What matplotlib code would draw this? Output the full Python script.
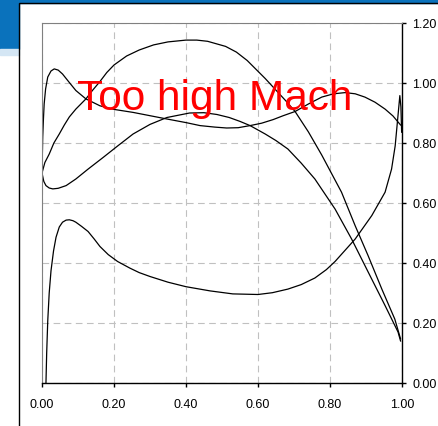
import matplotlib
matplotlib.use('Agg')
import matplotlib.pyplot as plt
from matplotlib.patches import Rectangle

plt.rcParams['font.family'] = ['Liberation Sans', 'DejaVu Sans']

# lower curve (starts at stagnation, loops at trailing edge)
c1_x = [0.011, 0.013, 0.016, 0.020, 0.025, 0.032, 0.039, 0.048, 0.057, 0.067,
        0.076, 0.086, 0.094, 0.11, 0.128, 0.145, 0.161, 0.184, 0.21, 0.244,
        0.27, 0.30, 0.35, 0.40, 0.467, 0.53, 0.60, 0.64, 0.683, 0.72, 0.758,
        0.79, 0.814, 0.87, 0.916, 0.953, 0.971, 0.981, 0.988, 0.994, 0.997,
        0.999]
c1_y = [0.00, 0.10, 0.208, 0.30, 0.374, 0.44, 0.486, 0.52, 0.536, 0.543,
        0.544, 0.541, 0.536, 0.522, 0.505, 0.48, 0.455, 0.428, 0.405, 0.383,
        0.368, 0.355, 0.336, 0.321, 0.307, 0.297, 0.295, 0.301, 0.313, 0.328,
        0.35, 0.378, 0.405, 0.48, 0.558, 0.636, 0.713, 0.79, 0.88, 0.958,
        0.92, 0.836]

# big arch
c2_x = [0.0, 0.008, 0.02, 0.033, 0.048, 0.062, 0.076, 0.094, 0.122, 0.14,
        0.161, 0.18, 0.20, 0.235, 0.27, 0.31, 0.35, 0.40, 0.43, 0.46, 0.51,
        0.54, 0.57, 0.62, 0.68, 0.703, 0.74, 0.777, 0.832, 0.87, 0.906,
        0.944, 0.98, 0.996]
c2_y = [0.70, 0.735, 0.763, 0.80, 0.83, 0.86, 0.887, 0.913, 0.947, 0.975,
        1.005, 1.035, 1.06, 1.09, 1.11, 1.127, 1.137, 1.143, 1.143, 1.139,
        1.122, 1.103, 1.075, 1.015, 0.937, 0.905, 0.837, 0.76, 0.636, 0.524,
        0.424, 0.313, 0.213, 0.147]

# flat upper curve with leading edge peak
c3_x = [0.0, 0.001, 0.002, 0.004, 0.006, 0.010, 0.016, 0.025, 0.034, 0.045,
        0.057, 0.075, 0.094, 0.122, 0.161, 0.20, 0.253, 0.30, 0.347, 0.40,
        0.439, 0.48, 0.513, 0.545, 0.578, 0.61, 0.642, 0.67, 0.703, 0.74,
        0.777, 0.81, 0.842, 0.87, 0.897, 0.925, 0.953, 0.975, 0.996]
c3_y = [0.70, 0.76, 0.82, 0.88, 0.93, 0.98, 1.02, 1.04, 1.047, 1.043,
        1.03, 1.003, 0.975, 0.947, 0.924, 0.912, 0.902, 0.891, 0.88, 0.868,
        0.858, 0.853, 0.85, 0.851, 0.858, 0.866, 0.878, 0.891, 0.905, 0.93,
        0.953, 0.964, 0.968, 0.964, 0.953, 0.936, 0.913, 0.89, 0.86]

# middle curve
c4_x = [0.0, 0.005, 0.011, 0.02, 0.03, 0.045, 0.067, 0.094, 0.128, 0.17,
        0.21, 0.253, 0.30, 0.347, 0.41, 0.45, 0.486, 0.52, 0.55, 0.578, 0.62,
        0.65, 0.683, 0.72, 0.758, 0.814, 0.86, 0.906, 0.953, 0.989, 0.996]
c4_y = [0.70, 0.672, 0.658, 0.65, 0.647, 0.649, 0.658, 0.68, 0.713, 0.752,
        0.79, 0.83, 0.862, 0.885, 0.90, 0.901, 0.895, 0.885, 0.872, 0.858,
        0.83, 0.808, 0.78, 0.733, 0.68, 0.58, 0.48, 0.37, 0.258, 0.17, 0.14]

x_ticks = [0.0, 0.2, 0.4, 0.6, 0.8, 1.0]
y_ticks = [0.0, 0.2, 0.4, 0.6, 0.8, 1.0, 1.2]

W, H = 439, 427
fig = plt.figure(figsize=(W / 100, H / 100), dpi=100)

# header decoration
blue = '#0a72bc'
fig.patches.append(Rectangle((0, 1 - 4 / H), 1, 4 / H, transform=fig.transFigure,
                             color=blue, zorder=0))
fig.patches.append(Rectangle((0, 1 - 50 / H), 19 / W, 50 / H, transform=fig.transFigure,
                             color=blue, zorder=0))
fig.patches.append(Rectangle((0, 1 - 56 / H), 19 / W, 6 / H, transform=fig.transFigure,
                             color='#d4e6f4', zorder=0))
fig.patches.append(Rectangle((19.5 / W, -0.1), 1.2, 1.1 - 4.5 / H, transform=fig.transFigure,
                             fill=False, edgecolor='black', lw=1.0, zorder=1))

ax = fig.add_axes([42 / W, (H - 384) / H, 360 / W, 360 / H])
for xs, ys in [(c1_x, c1_y), (c2_x, c2_y), (c3_x, c3_y), (c4_x, c4_y)]:
    ax.plot(xs, ys, color='black', lw=0.9)

ax.text(0.097, 0.913, 'Too high Mach', color='red', fontsize=30.5, va='baseline')

ax.set_xlim(0, 1)
ax.set_ylim(0, 1.2)
ax.set_xticks(x_ticks)
ax.set_yticks(y_ticks)
ax.set_xticklabels(['%.2f' % v for v in x_ticks])
ax.set_yticklabels(['%.2f' % v for v in y_ticks])
ax.yaxis.tick_right()
ax.tick_params(direction='out', length=3, width=1, labelsize=9, colors='black')
ax.tick_params(axis='x', pad=8)
ax.tick_params(axis='y', pad=4.5)
ax.grid(True, color='#c0c0c0', linestyle=(0, (6, 4)), lw=0.8)

ax.spines['left'].set_color('#808080')
ax.spines['top'].set_color('#808080')
ax.spines['left'].set_linewidth(0.8)
ax.spines['top'].set_linewidth(0.8)
ax.spines['bottom'].set_linewidth(1.0)
ax.spines['right'].set_linewidth(1.0)

plt.savefig('out.png', dpi=100)
